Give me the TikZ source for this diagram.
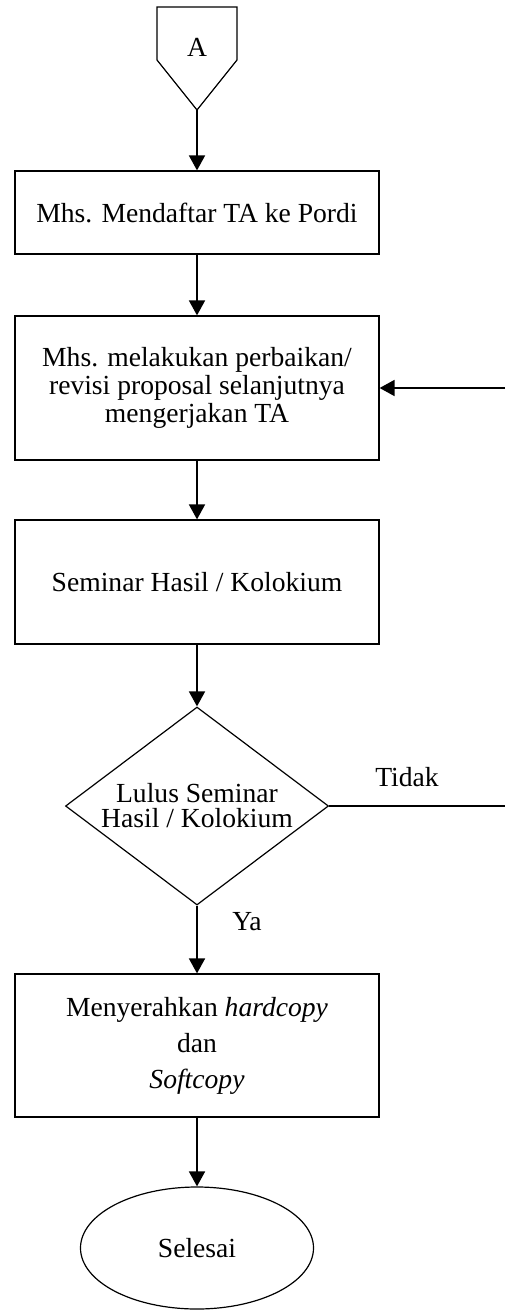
\documentclass[tikz,border=0pt]{standalone}
\usepackage{fontspec}
\setmainfont{Liberation Serif}
\usetikzlibrary{shapes.geometric}
\usetikzlibrary{arrows.meta}

\begin{document}
\begin{tikzpicture}[x=0.5pt, y=-0.5pt]
	\tikzset{box/.style={shape = rectangle, draw, line width = 0.6pt, minimum width = 182pt, align = center, font = \fontsize{13.8}{14}\selectfont}}
	\tikzset{decision/.style={shape = diamond, draw, line width = 0.6pt, minimum width = 131.5pt, minimum height = 99pt, aspect = 1.33, inner sep = 0pt, align = center, font = \fontsize{13.8}{12.5}\selectfont}}
	\tikzset{terminal/.style={shape = ellipse, draw, line width = 0.6pt, minimum width = 116.5pt, minimum height = 61pt, font = \fontsize{13.8}{14}\selectfont}}
	\tikzset{lbl/.style={font = \fontsize{13.8}{14}\selectfont}}
	\tikzset{flow/.style={-{Triangle[length = 7.5pt, width = 8pt]}, line width = 0.9pt}}
	\useasboundingbox (0, 0) rectangle (505, 1310);
	%off-page connector
	\draw[line width = 0.6pt] (157, 7) -- (237, 7) -- (237, 60) -- (197, 110) coordinate (tip) -- (157, 60) -- cycle;
	\node[lbl] (conA) at (197, 47) {A};
	%steps
	\node[box, minimum height = 41.5pt] (daftar) at (197, 212.5) {Mhs. Mendaftar TA ke Pordi};
	\node[box, minimum height = 72pt] (revisi) at (197, 388) {Mhs. melakukan perbaikan/\\revisi proposal selanjutnya\\mengerjakan TA};
	\node[box, minimum height = 62pt] (semhas) at (197, 582) {Seminar Hasil / Kolokium};
	\node[decision] (lulus) at (197, 806) {Lulus Seminar\\Hasil / Kolokium};
	\node[box, minimum height = 71.5pt, font = \fontsize{13.8}{18}\selectfont] (serah) at (197, 1045.5) {Menyerahkan \textit{hardcopy}\\dan\\\textit{Softcopy}};
	\node[terminal] (selesai) at (197, 1248) {Selesai};
	%labels
	\node[lbl] (ya) at (247, 922) {Ya};
	\node[lbl] (tidak) at (407, 777) {Tidak};
	\coordinate (tidakEnd) at (505, 806);
	\coordinate (balik) at (505, 388);
	%edges
	\draw[flow] (tip) -- (daftar);
	\draw[flow] (daftar) -- (revisi);
	\draw[flow] (revisi) -- (semhas);
	\draw[flow] (semhas) -- (lulus);
	\draw[flow] (lulus) -- (serah);
	\draw[flow] (serah) -- (selesai);
	\draw[line width = 0.9pt] (lulus.east) -- (tidakEnd);
	\draw[flow] (balik) -- (revisi.east);
\end{tikzpicture}
\end{document}
